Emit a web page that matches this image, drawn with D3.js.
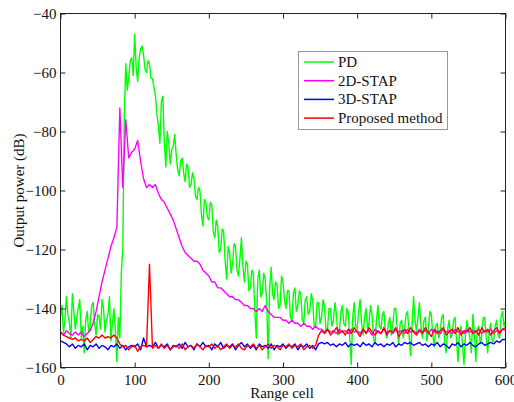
<!DOCTYPE html>
<html>
<head>
<meta charset="utf-8">
<script src="https://cdn.jsdelivr.net/npm/d3@7"></script>
<style>
  html, body { margin: 0; padding: 0; background: #fff; }
  svg { display: block; }
  text { font-family: "Liberation Serif", "Times New Roman", serif; fill: #111; }
</style>
</head>
<body>
<svg id="chart" width="514" height="402"></svg>
<script>
// ---- data ----
const pdStep = 2;      // PD sampled every 2 range cells (0..600)
const cellStep = 4;    // other series sampled every 4 range cells (0..600)
const xTicks = [0, 100, 200, 300, 400, 500, 600];
const yTicks = [-160, -140, -120, -100, -80, -60, -40];
const seriesNames = ["PD", "2D-STAP", "3D-STAP", "Proposed method"];
const seriesColors = ["#00ff00", "#ff00ff", "#0000ff", "#ff0000"];

const pd = [
  -143,-139,-148,-144,-136,-142,-145,-150,-135,-141,-147,-143,-140,-137,-150,-146,-155,-144,-141,-148,
  -146,-139,-138,-145,-149,-142,-143,-147,-137,-140,-148,-144,-142,-136,-151,-145,-140,-147,-158,-143,
  -150,-128,-120,-75,-57,-66,-62,-56,-55,-61,-47,-58,-63,-55,-52,-51,-54,-59,-60,-56,
  -57,-62,-62,-65,-68,-74,-78,-84,-70,-68,-84,-92,-80,-84,-91,-86,-85,-81,-88,-93,
  -95,-90,-89,-94,-97,-91,-92,-99,-98,-94,-96,-102,-103,-99,-100,-108,-112,-103,-104,-109,
  -110,-104,-105,-114,-116,-110,-112,-121,-120,-113,-114,-124,-130,-119,-121,-128,-125,-118,-119,-127,
  -129,-123,-116,-126,-131,-124,-125,-134,-133,-127,-128,-141,-150,-130,-127,-136,-135,-128,-130,-138,
  -157,-133,-126,-135,-137,-131,-132,-140,-139,-129,-131,-137,-140,-134,-134,-143,-144,-135,-133,-141,
  -139,-134,-135,-144,-145,-137,-136,-142,-141,-135,-137,-146,-146,-138,-138,-145,-143,-137,-139,-148,
  -147,-140,-140,-146,-144,-138,-142,-149,-148,-141,-139,-145,-146,-140,-141,-150,-159,-143,-138,-146,
  -147,-141,-137,-145,-149,-143,-140,-147,-145,-139,-142,-150,-152,-144,-139,-146,-147,-142,-141,-148,
  -150,-145,-143,-149,-146,-140,-140,-147,-152,-145,-144,-150,-147,-142,-141,-149,-156,-146,-136,-144,
  -148,-143,-138,-146,-150,-144,-143,-151,-147,-141,-142,-149,-153,-146,-145,-150,-148,-143,-142,-152,
  -155,-147,-144,-150,-149,-144,-143,-151,-158,-148,-146,-152,-159,-149,-144,-147,-150,-155,-142,-148,
  -158,-147,-146,-152,-149,-143,-143,-150,-155,-148,-145,-151,-151,-146,-144,-149,-150,-143,-141,-146,
  -144
];
const stap2d = [
  -148,-149,-147.5,-148.5,-149,-148,-149,-148,-149.5,-148.5,-147.5,-145,-141,-136,-131,-127,-123,-119,-116,-112.5,
  -72,-99,-76,-89,-87,-86,-83,-90,-96,-99,-98,-99,-98,-101,-103,-104,-106,-108,-110,-113,
  -116,-119,-121,-122,-123,-124,-124,-125,-127,-128,-129,-131,-131,-133,-133,-134,-135,-136,-136,-137,
  -137,-138,-139,-139,-140,-140,-141,-140,-141,-139,-141,-142,-143,-143,-143,-144,-144,-145,-144,-145,
  -145,-146,-145,-146,-146,-147,-146,-147,-147,-148,-147,-148,-147.5,-148.5,-147,-148,-147.5,-148.5,-147,-148,
  -147.5,-148.5,-147,-148,-147.5,-149,-147,-148,-148.5,-147,-148,-147.5,-148.5,-147,-148,-147.5,-148.5,-147,-148,-147.5,
  -148.5,-147,-148,-147.5,-148.5,-147,-148,-147.5,-148.5,-147,-148,-147.5,-148.5,-147,-148,-147.5,-148.5,-147,-148,-147.5,
  -148,-147,-148.5,-147.5,-148,-147,-148.5,-147.5,-148,-147,-147.5
];
const stap3d = [
  -151,-151.5,-152,-153,-152,-153.5,-152.5,-153,-152,-154,-152.5,-153,-152,-153.5,-152.5,-153,-154,-152.5,-153,-152,
  -153.5,-152.5,-154,-153,-152.5,-153,-152,-154,-150,-153,-152.5,-153,-151.5,-153.5,-152.5,-153,-152,-154,-152.5,-153,
  -152,-153.5,-151.5,-153,-152.5,-154,-152,-153,-151.5,-153,-152.5,-154,-152,-153,-151.5,-153.5,-152.5,-153,-152,-154,
  -152.5,-151.5,-153,-152,-153.5,-152.5,-154,-152,-153,-152.5,-153.5,-152,-154,-152.5,-153,-152,-153.5,-152.5,-153,-152,
  -154,-152.5,-153,-152,-153.5,-152.5,-154,-152,-151.5,-152,-151.5,-152.5,-152,-153,-152,-152.5,-151.5,-153,-152,-152.5,
  -152,-153,-151.5,-152.5,-152,-153,-151.5,-152.5,-152,-153,-152,-152.5,-151.5,-153,-152,-152.5,-151.5,-152,-151.5,-152.5,
  -152,-151.5,-152.5,-152,-153,-152,-152.5,-151.5,-153,-152,-152.5,-153.5,-152,-152.5,-151.5,-153,-152,-152.5,-151.5,-152.5,
  -153,-152,-151.5,-152.5,-152,-151.5,-152,-151,-151.5,-150.5,-150.5
];
const proposed = [
  -148,-149,-149.5,-150,-150.5,-150,-151,-150.5,-151,-150,-151.5,-150.5,-149.5,-150,-149,-150,-149.5,-150,-149,-150,
  -152,-153,-152.5,-154,-153,-152.5,-154.5,-153,-152.5,-153,-125,-153.5,-152.5,-153.5,-152,-153.5,-152.5,-154,-153,-152.5,
  -153.5,-152,-154,-153,-152.5,-153.5,-152,-153,-154,-152.5,-153,-152,-153.5,-152.5,-154,-153,-152,-153.5,-152.5,-153,
  -152,-153.5,-154,-152.5,-153,-152,-153.5,-152.5,-154,-153,-152,-153.5,-152.5,-153,-154,-152.5,-153,-152,-153.5,-152.5,
  -153,-152,-154,-153,-152.5,-153.5,-152.5,-149,-147.5,-148.5,-147,-149,-148,-146.5,-148.5,-147.5,-149,-147,-148.5,-146.5,
  -148,-149.5,-147,-148.5,-146.5,-148,-149,-147.5,-148.5,-146.5,-149,-147.5,-148,-146.5,-149.5,-148,-147,-148.5,-146.5,-148,
  -149,-147.5,-148.5,-146.5,-148,-149.5,-147,-148.5,-147.5,-146.5,-149,-148,-147,-148.5,-146.5,-149,-147.5,-148,-146.5,-148.5,
  -147.5,-149,-146.5,-148,-147,-149,-147.5,-146.5,-148.5,-147,-146.5
];
const allSeries = [pd, stap2d, stap3d, proposed];
const allSteps = [pdStep, cellStep, cellStep, cellStep];

// ---- layout ----
const svg = d3.select("#chart");
const L = 60.5, R = 505.5, T = 13.5, B = 367.5;
const x = d3.scaleLinear().domain([0, 600]).range([L, R]);
const y = d3.scaleLinear().domain([-160, -40]).range([B, T]);

svg.append("defs").append("clipPath").attr("id", "clip")
  .append("rect").attr("x", L).attr("y", T).attr("width", R - L).attr("height", B - T);

const g = svg.append("g").attr("clip-path", "url(#clip)");
allSeries.forEach((s, k) => {
  const step = allSteps[k];
  const line = d3.line()
    .x((d, i) => x(i * step))
    .y(d => y(d));
  g.append("path")
    .datum(s)
    .attr("fill", "none")
    .attr("stroke", seriesColors[k])
    .attr("stroke-width", 1.4)
    .attr("stroke-linejoin", "round")
    .attr("d", line);
});

// ---- axes ----
function styleAxis(sel) {
  sel.select(".domain").remove();
  sel.selectAll(".tick line").attr("stroke", "#222");
  sel.selectAll(".tick text").style("font-family", "Liberation Serif").style("font-size", "15px").attr("fill", "#111");
}
svg.append("g").attr("transform", `translate(0,${B})`)
  .call(d3.axisBottom(x).tickValues(xTicks).tickSize(-5).tickPadding(6.5))
  .call(styleAxis);
svg.append("g").attr("transform", `translate(0,${T})`)
  .call(d3.axisTop(x).tickValues(xTicks).tickSize(-5).tickFormat(""))
  .call(styleAxis);
svg.append("g").attr("transform", `translate(${L},0)`)
  .call(d3.axisLeft(y).tickValues(yTicks).tickSize(-5).tickPadding(4))
  .call(styleAxis);
svg.append("g").attr("transform", `translate(${R},0)`)
  .call(d3.axisRight(y).tickValues(yTicks).tickSize(-5).tickFormat(""))
  .call(styleAxis);

svg.append("rect")
  .attr("x", L).attr("y", T).attr("width", R - L).attr("height", B - T)
  .attr("fill", "none").attr("stroke", "#222").attr("stroke-width", 1);

// ---- axis titles ----
svg.append("text")
  .attr("x", (L + R) / 2 - 1).attr("y", 398)
  .attr("text-anchor", "middle")
  .style("font-size", "15px")
  .text("Range cell");
svg.append("text")
  .attr("transform", `translate(24,${(T + B) / 2}) rotate(-90)`)
  .attr("text-anchor", "middle")
  .style("font-size", "15px")
  .text("Output power (dB)");

// ---- legend ----
const lg = svg.append("g");
lg.append("rect")
  .attr("x", 298.5).attr("y", 51.5).attr("width", 149).attr("height", 78)
  .attr("fill", "#fff").attr("stroke", "#999").attr("stroke-width", 1);
seriesNames.forEach((name, k) => {
  const cy = 62 + k * 18.7;
  lg.append("line")
    .attr("x1", 304).attr("x2", 334).attr("y1", cy).attr("y2", cy)
    .attr("stroke", seriesColors[k]).attr("stroke-width", 1.5);
  lg.append("text")
    .attr("x", 338).attr("y", cy + 5)
    .style("font-size", "15px")
    .text(name);
});
</script>
</body>
</html>
